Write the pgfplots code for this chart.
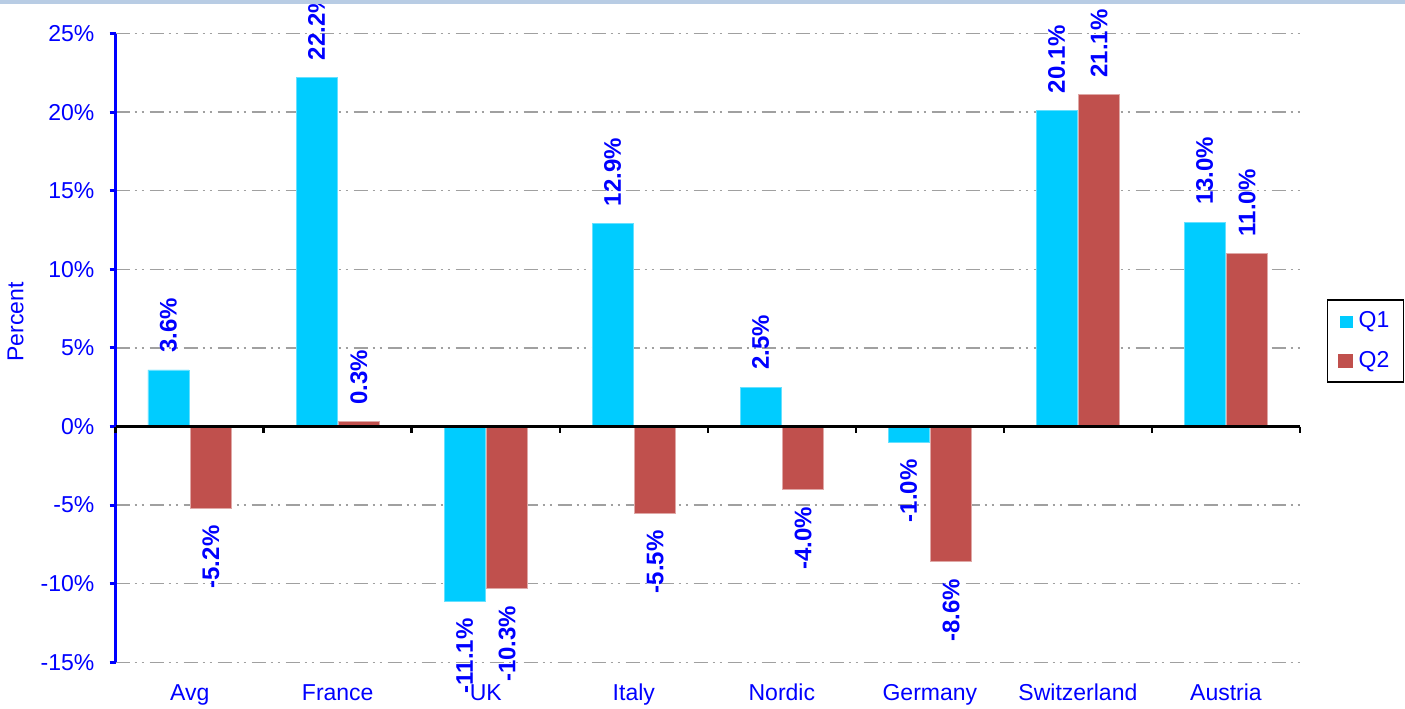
\documentclass[border=0pt]{standalone}
\usepackage{fontspec}
\setmainfont{Liberation Sans}
\usepackage{graphicx}
\usepackage{pgfplots}
\usepackage{pgfplotstable}
\pgfplotsset{compat=1.18}

\definecolor{qone}{HTML}{00CCFF}
\definecolor{qtwo}{HTML}{C0504D}
\definecolor{gridgray}{HTML}{A0A0A0}
\definecolor{topband}{HTML}{B8CCE4}

% values in percent
\pgfplotstableread{
idx q1 q2
0 3.6 -5.2
1 22.2 0.3
2 -11.1 -10.3
3 12.9 -5.5
4 2.5 -4.0
5 -1.0 -8.6
6 20.1 21.1
7 13.0 11.0
}\data

\newcommand{\fs}{\fontsize{11.5}{13.8}\selectfont}
\newcommand{\fl}{\fontsize{12}{14.4}\selectfont}

\begin{document}
\begin{tikzpicture}
\begin{axis}[
  scale only axis, width=592.15pt, height=314.4pt,
  clip=false,
  xmin=-0.5, xmax=7.5, ymin=-15, ymax=25,
  axis x line*=bottom, axis y line*=left,
  x axis line style={draw=none},
  y axis line style={blue, line width=1.5pt},
  xtick={0,...,7},
  xticklabels={Avg,France,UK,Italy,Nordic,Germany,Switzerland,Austria},
  xtick style={draw=none},
  xticklabel style={anchor=base, yshift=-16pt},
  ytick={-15,-10,...,25},
  yticklabels={-15\%,-10\%,-5\%,0\%,5\%,10\%,15\%,20\%,25\%},
  ytick style={blue, line width=1.5pt},
  tick align=outside, major tick length=3pt,
  yticklabel style={anchor=east, inner sep=0pt, xshift=-7.5pt},
  tick label style={font=\fs, text=blue},
  ymajorgrids,
  grid style={gridgray, line width=0.65pt,
    dash pattern=on 7pt off 2.5pt on 1pt off 2.5pt on 1pt off 3pt},
  ylabel={Percent},
  ylabel style={at={(axis description cs:-0.0845,0.541)}, anchor=center,
    font=\fs, text=blue},
  ybar, bar width=20.5pt,
  point meta=explicit symbolic,
  legend style={at={(axis description cs:1.0225,0.511)}, anchor=west,
    draw=black, line width=0.7pt, font=\fs, text=blue,
    row sep=6pt, inner xsep=5pt, inner ysep=4pt, cells={anchor=west}},
  lbl/.style={draw=none, fill=none, forget plot,
    nodes near coords={\rotatebox{90}{\pgfplotspointmeta\%}},
    every node near coord/.append style={font=\bfseries\fl, text=blue,
      inner ysep=8.5pt, inner xsep=0pt}},
  pos/.style={lbl, restrict y to domain=0:100,
    every node near coord/.append style={anchor=south}},
  neg/.style={lbl, restrict y to domain=-100:-0.001,
    every node near coord/.append style={anchor=north}},
]
\addlegendimage{legend image code/.code={\path (0pt,0pt) (8pt,0pt);
  \fill[qone] (1.5pt,-3pt) rectangle (7pt,2.5pt);}}
\addlegendentry{Q1}
\addlegendimage{legend image code/.code={\path (0pt,0pt) (8pt,0pt);
  \fill[qtwo] (0.5pt,-3.5pt) rectangle (7pt,3pt);}}
\addlegendentry{Q2}
% bars
\addplot[forget plot, bar shift=-10.625pt,
  fill=qone, draw=qone!60!white, line width=0.4pt]
  table[x=idx, y=q1, meta=q1] {\data};
\addplot[forget plot, bar shift=10.625pt,
  fill=qtwo, draw=qtwo!50!white, line width=0.4pt]
  table[x=idx, y=q2, meta=q2] {\data};
% data labels, above positive and below negative bars
\addplot[pos, bar shift=-10.625pt] table[x=idx, y=q1, meta=q1] {\data};
\addplot[neg, bar shift=-10.625pt] table[x=idx, y=q1, meta=q1] {\data};
\addplot[pos, bar shift=10.625pt] table[x=idx, y=q2, meta=q2] {\data};
\addplot[neg, bar shift=10.625pt] table[x=idx, y=q2, meta=q2] {\data};
% zero line with category ticks
\draw[black, line width=1.35pt] (axis cs:-0.5,0) -- (axis cs:7.5,0);
\pgfplotsinvokeforeach{-0.5,0.5,1.5,2.5,3.5,4.5,5.5,6.5,7.5}{
  \draw[black, line width=1.3pt] (axis cs:#1,0) -- ++(0pt,-3.25pt);
}
\end{axis}
\pgfresetboundingbox
\path[use as bounding box]
  ([shift={(-57.85pt,-22.85pt)}]current axis.south west) rectangle
  ([shift={(644.65pt,331.15pt)}]current axis.south west);
\fill[topband]
  ([shift={(-57.85pt,329.15pt)}]current axis.south west) rectangle
  ([shift={(644.65pt,331.15pt)}]current axis.south west);
\end{tikzpicture}
\end{document}
